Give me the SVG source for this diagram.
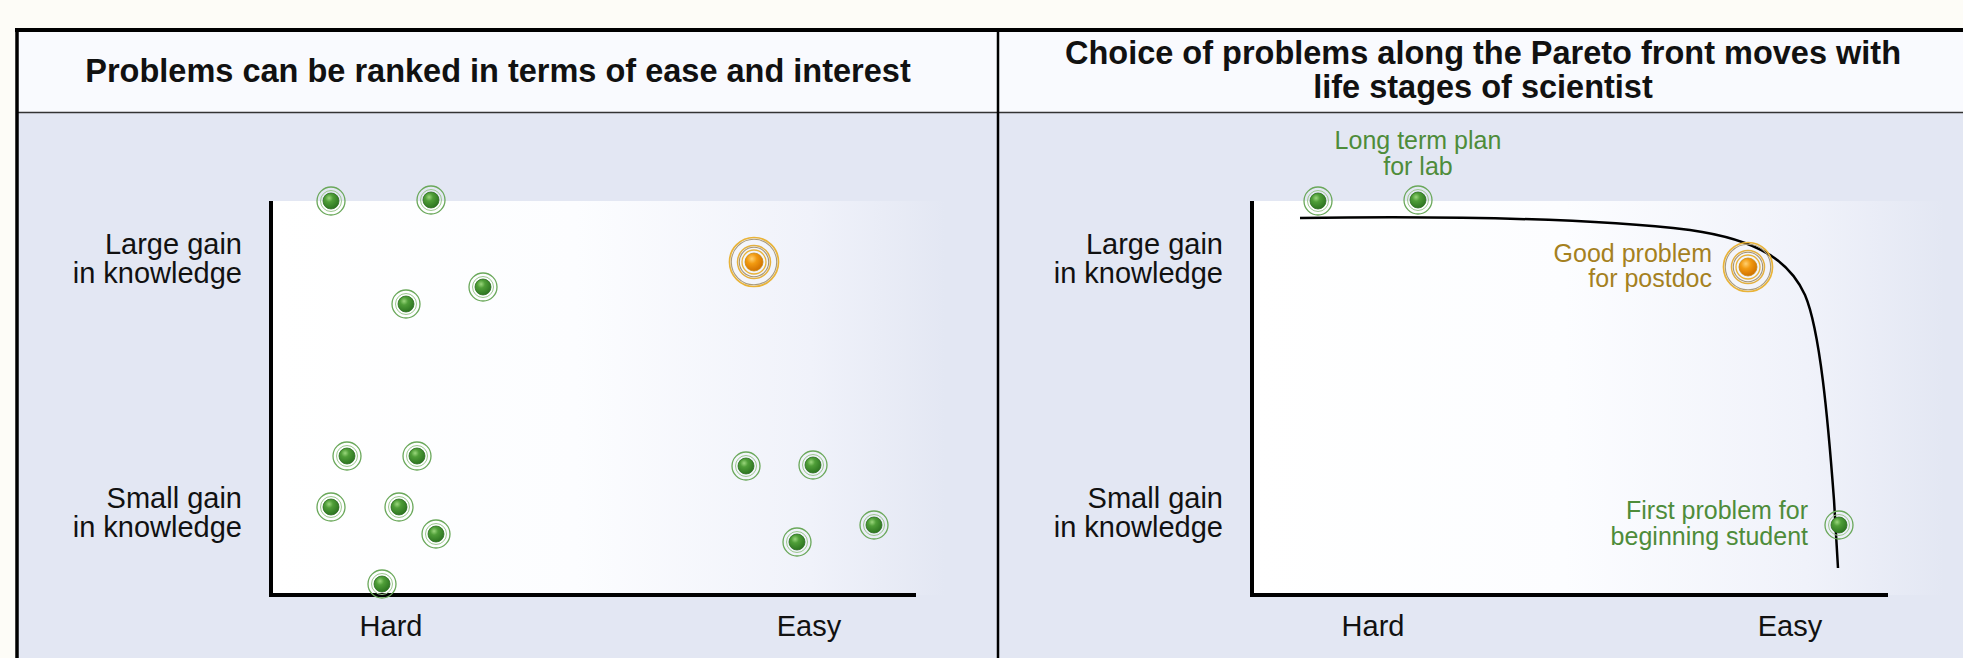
<svg xmlns="http://www.w3.org/2000/svg" xmlns:xlink="http://www.w3.org/1999/xlink" width="1963" height="658" viewBox="0 0 1963 658">
<style>
.title{font-family:"Liberation Sans",Arial,sans-serif;font-weight:bold;font-size:32.5px;fill:#111;text-anchor:middle}
.ax{font-family:"Liberation Sans",Arial,sans-serif;font-size:29px;fill:#111}
.lblg{font-family:"Liberation Sans",Arial,sans-serif;font-size:25px;fill:#4e8c3a}
.lblo{font-family:"Liberation Sans",Arial,sans-serif;font-size:25px;fill:#a5811f}
.axis{stroke:#000;stroke-width:4;fill:none}
.front{stroke:#000;stroke-width:2.5;fill:none}
</style>
<defs>
<linearGradient id="plotbg" x1="0" y1="0" x2="1" y2="0">
<stop offset="0" stop-color="#ffffff"/>
<stop offset="0.45" stop-color="#fcfdff"/>
<stop offset="0.8" stop-color="#f0f2fa"/>
<stop offset="1" stop-color="#e3e7f3"/>
</linearGradient>
<radialGradient id="gg" cx="0.38" cy="0.32" r="0.7">
<stop offset="0" stop-color="#9ad67c"/>
<stop offset="0.35" stop-color="#4f9e38"/>
<stop offset="1" stop-color="#2c7420"/>
</radialGradient>
<radialGradient id="og" cx="0.38" cy="0.32" r="0.7">
<stop offset="0" stop-color="#ffd070"/>
<stop offset="0.4" stop-color="#f29a10"/>
<stop offset="1" stop-color="#d07000"/>
</radialGradient>
<g id="gdot">
<circle r="14" fill="none" stroke="#6aa85a" stroke-width="1.3"/>
<circle r="10.5" fill="none" stroke="#9cc88e" stroke-width="1"/>
<circle r="8" fill="url(#gg)" stroke="#2e6e22" stroke-width="0.8"/>
</g>
<g id="odot">
<circle r="24.5" fill="none" stroke="#e9b338" stroke-width="1.7"/>
<circle r="22.7" fill="none" stroke="#a89a7c" stroke-width="1.1"/>
<circle r="16.5" fill="none" stroke="#e3b040" stroke-width="1.5"/>
<circle r="14.7" fill="none" stroke="#a39478" stroke-width="1.1"/>
<circle r="12" fill="none" stroke="#e9b338" stroke-width="1.3"/>
<circle r="9" fill="url(#og)" stroke="#c98a10" stroke-width="0.8"/>
</g>
</defs>

<g id="background">
<rect x="0" y="0" width="1963" height="658" fill="#fdfcf7"/>
<rect x="17" y="30" width="1946" height="82" fill="#f9fafe"/>
<rect x="17" y="112" width="1946" height="546" fill="#e3e7f3"/>
<line x1="17" y1="112.5" x2="1963" y2="112.5" stroke="#333" stroke-width="1.5"/>
<line x1="15" y1="30" x2="1963" y2="30" stroke="#000" stroke-width="4"/>
<line x1="17" y1="28" x2="17" y2="658" stroke="#000" stroke-width="3.5"/>
<line x1="998" y1="30" x2="998" y2="658" stroke="#000" stroke-width="2.5"/>
</g>

<g id="titles">
<text class="title" x="498" y="82">Problems can be ranked in terms of ease and interest</text>
<text class="title"><tspan x="1483" y="64">Choice of problems along the Pareto front moves with</tspan><tspan x="1483" y="98">life stages of scientist</tspan></text>
</g>

<g id="left-plot">
<rect x="273" y="201" width="672" height="394" fill="url(#plotbg)"/>
<line class="axis" x1="271" y1="201" x2="271" y2="597"/>
<line class="axis" x1="269" y1="595" x2="916" y2="595"/>
<text class="ax" text-anchor="end"><tspan x="242" y="254">Large gain</tspan><tspan x="242" y="283">in knowledge</tspan></text>
<text class="ax" text-anchor="end"><tspan x="242" y="508">Small gain</tspan><tspan x="242" y="537">in knowledge</tspan></text>
<text class="ax" x="391" y="636" text-anchor="middle">Hard</text>
<text class="ax" x="809" y="636" text-anchor="middle">Easy</text>
</g>

<g id="right-plot">
<rect x="1254" y="201" width="690" height="394" fill="url(#plotbg)"/>
<line class="axis" x1="1252" y1="201" x2="1252" y2="597"/>
<line class="axis" x1="1250" y1="595" x2="1888" y2="595"/>
<text class="ax" text-anchor="end"><tspan x="1223" y="254">Large gain</tspan><tspan x="1223" y="283">in knowledge</tspan></text>
<text class="ax" text-anchor="end"><tspan x="1223" y="508">Small gain</tspan><tspan x="1223" y="537">in knowledge</tspan></text>
<text class="ax" x="1373" y="636" text-anchor="middle">Hard</text>
<text class="ax" x="1790" y="636" text-anchor="middle">Easy</text>
</g>

<g id="connectors">
<path id="pareto-front" class="front" d="M1300 218 C1450 216 1600 219 1690 230 C1760 240 1790 262 1805 295 C1820 330 1828 420 1834 500 L1838 568"/>
</g>

<g id="left-nodes">
<g id="L1"><use href="#gdot" transform="translate(331,201)"/></g>
<g id="L2"><use href="#gdot" transform="translate(431,200)"/></g>
<g id="L3"><use href="#gdot" transform="translate(406,304)"/></g>
<g id="L4"><use href="#gdot" transform="translate(483,287)"/></g>
<g id="L5"><use href="#odot" transform="translate(754,262)"/></g>
<g id="L6"><use href="#gdot" transform="translate(347,456)"/></g>
<g id="L7"><use href="#gdot" transform="translate(417,456)"/></g>
<g id="L8"><use href="#gdot" transform="translate(331,507)"/></g>
<g id="L9"><use href="#gdot" transform="translate(399,507)"/></g>
<g id="L10"><use href="#gdot" transform="translate(436,534)"/></g>
<g id="L11"><use href="#gdot" transform="translate(382,584)"/></g>
<g id="L12"><use href="#gdot" transform="translate(746,466)"/></g>
<g id="L13"><use href="#gdot" transform="translate(813,465)"/></g>
<g id="L14"><use href="#gdot" transform="translate(797,542)"/></g>
<g id="L15"><use href="#gdot" transform="translate(874,525)"/></g>
</g>

<g id="right-nodes">
<g id="R1"><use href="#gdot" transform="translate(1318,201)"/></g>
<g id="R2">
<use href="#gdot" transform="translate(1418,200)"/>
<text class="lblg" text-anchor="middle"><tspan x="1418" y="149">Long term plan</tspan><tspan x="1418" y="175">for lab</tspan></text>
</g>
<g id="R3">
<use href="#odot" transform="translate(1748,267)"/>
<text class="lblo" text-anchor="end"><tspan x="1712" y="262">Good problem</tspan><tspan x="1712" y="287">for postdoc</tspan></text>
</g>
<g id="R4">
<use href="#gdot" transform="translate(1839,525)"/>
<text class="lblg" text-anchor="end"><tspan x="1808" y="519">First problem for</tspan><tspan x="1808" y="545">beginning student</tspan></text>
</g>
</g>
</svg>
